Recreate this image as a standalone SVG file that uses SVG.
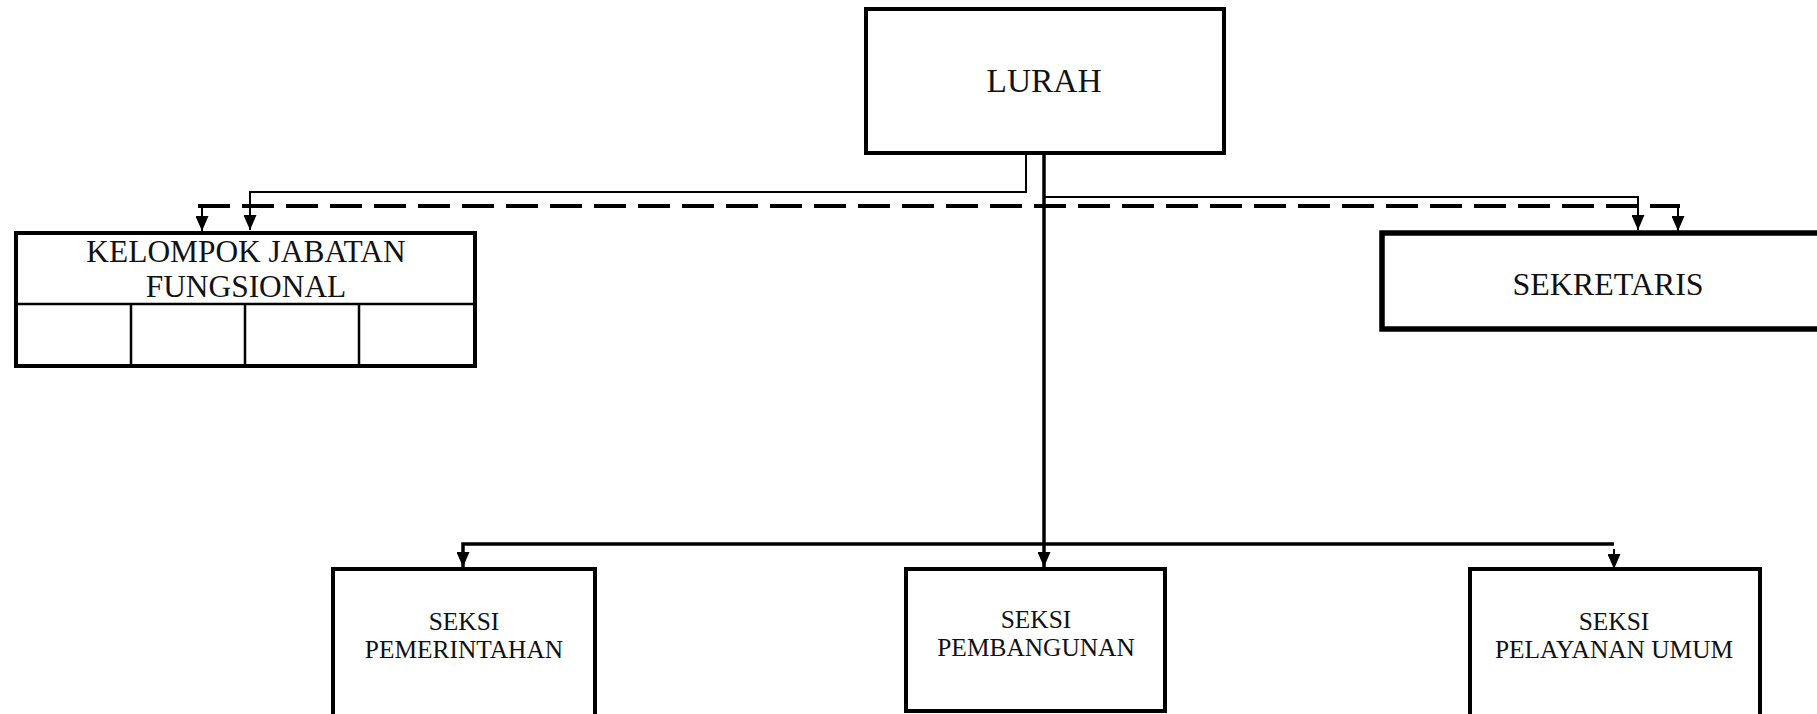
<svg xmlns="http://www.w3.org/2000/svg" width="1817" height="714" viewBox="0 0 1817 714">
<style>
.box{fill:#fff;stroke:#000;stroke-width:4}
.t{font-family:"Liberation Serif","Times New Roman",serif;fill:#111;text-anchor:middle}
.s{font-size:25.4px}
.thin{fill:none;stroke:#000;stroke-width:2}
.thick{fill:none;stroke:#000;stroke-width:3.5}
.dash{fill:none;stroke:#000;stroke-width:4;stroke-dasharray:32 12}
</style>
<defs>
<marker id="ah" viewBox="0 0 15 13" refX="15" refY="6.5" markerWidth="15" markerHeight="13" markerUnits="userSpaceOnUse" orient="auto">
<path d="M0,0 L15,6.5 L0,13 Z" fill="#000"/>
</marker>
</defs>
<rect width="1817" height="714" fill="#fff"/>
<g id="connectors">
<path class="thin" d="M1026,153 V192 H250 V230" marker-end="url(#ah)"/>
<path class="thin" d="M1044,197 H1638 V230" marker-end="url(#ah)"/>
<path class="dash" d="M198,206 H1680"/>
<path class="thin" d="M202,206 V231" marker-end="url(#ah)"/>
<path class="thin" d="M1678,206 V231" marker-end="url(#ah)"/>
<path class="thick" d="M1044,153 V567" marker-end="url(#ah)"/>
<path class="thick" d="M463,567 V544 H1614"/>
<path class="thin" d="M463,550 V567" marker-end="url(#ah)"/>
<path class="thin" d="M1614,549 V569" marker-end="url(#ah)"/>
</g>
<g id="lurah">
<rect class="box" x="866" y="9" width="358" height="144"/>
<text class="t" x="1044" y="92" font-size="33.4">LURAH</text>
</g>
<g id="kelompok">
<rect class="box" x="16" y="233" width="459" height="133"/>
<path d="M16,304 H475 M131,304 V366 M245,304 V366 M359,304 V366" stroke="#000" stroke-width="2.5" fill="none"/>
<text class="t" x="246" y="262" font-size="31.4">KELOMPOK JABATAN</text>
<text class="t" x="246" y="297" font-size="31.4">FUNGSIONAL</text>
</g>
<g id="sekretaris">
<rect class="box" x="1382" y="233" width="500" height="96" style="stroke-width:5.5"/>
<text class="t" x="1608" y="295" font-size="32">SEKRETARIS</text>
</g>
<g id="pemerintahan">
<rect class="box" x="333" y="569" width="262" height="160"/>
<text class="t s" x="464" y="630">SEKSI</text>
<text class="t s" x="464" y="658">PEMERINTAHAN</text>
</g>
<g id="pembangunan">
<rect class="box" x="906" y="569" width="259" height="142"/>
<text class="t s" x="1036" y="628">SEKSI</text>
<text class="t s" x="1036" y="656">PEMBANGUNAN</text>
</g>
<g id="pelayanan">
<rect class="box" x="1470" y="569" width="290" height="160"/>
<text class="t s" x="1614" y="630">SEKSI</text>
<text class="t s" x="1614" y="658">PELAYANAN UMUM</text>
</g>
</svg>
